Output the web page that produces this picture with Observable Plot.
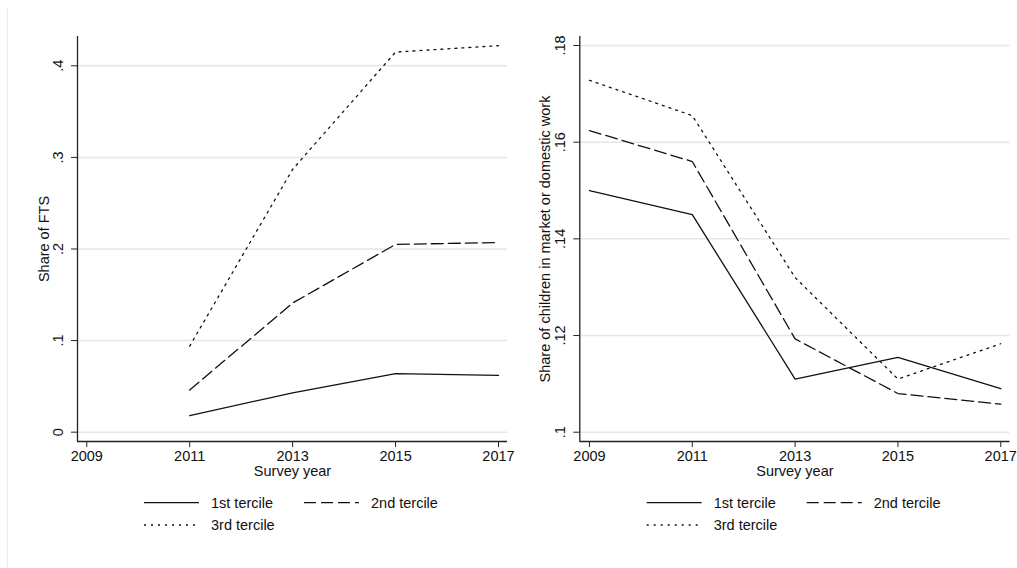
<!DOCTYPE html>
<html>
<head>
<meta charset="utf-8">
<script src="https://cdn.jsdelivr.net/npm/d3@7"></script>
<script src="https://cdn.jsdelivr.net/npm/@observablehq/plot@0.6"></script>
<style>
  html, body { margin: 0; padding: 0; background: #fff; }
  #chart { position: relative; width: 1017px; height: 568px; overflow: hidden; font-family: "Liberation Sans", Arial, sans-serif; }
  #chart > svg, #chart > div { position: absolute; top: 0; }
</style>
</head>
<body>
<div id="chart"></div>
<script>
// ---------- data ----------
const years = [2009, 2011, 2013, 2015, 2017];
const seriesNames = ["1st tercile", "2nd tercile", "3rd tercile"];

// Left panel: Share of FTS (no 2009 observation)
const fts1 = [null, 0.018, 0.043, 0.064, 0.062];
const fts2 = [null, 0.046, 0.141, 0.205, 0.207];
const fts3 = [null, 0.094, 0.287, 0.415, 0.422];

// Right panel: Share of children in market or domestic work
const work1 = [0.150, 0.145, 0.111, 0.1155, 0.109];
const work2 = [0.1624, 0.156, 0.1193, 0.108, 0.1058];
const work3 = [0.1728, 0.1655, 0.132, 0.111, 0.1183];

const yTicksLeft = [0, 0.1, 0.2, 0.3, 0.4];
const yTicksRight = [0.1, 0.12, 0.14, 0.16, 0.18];
const xTicks = [2009, 2011, 2013, 2015, 2017];

const xLabel = "Survey year";
const yLabelLeft = "Share of FTS";
const yLabelRight = "Share of children in market or domestic work";

// ---------- styles ----------
const dashes = [null, "12,5", "2,5"];
const lineColor = "#111";
const fmt = d => d === 0 ? "0" : String(+d.toFixed(4)).replace(/^0\./, ".");

function toRows(vals) {
  return years.map((y, i) => ({year: y, value: vals[i]}));
}

function panel({vals, yDomain, xDomain, yTicks, yLabel, width, marginLeft, marginRight, titleDx}) {
  const marks = [
    Plot.gridY(yTicks, {stroke: "#e6e6e6", strokeOpacity: 1, strokeWidth: 1.5}),
  ];
  vals.forEach((v, i) => {
    marks.push(Plot.line(toRows(v), {
      x: "year", y: "value",
      stroke: lineColor, strokeWidth: 1.3,
      strokeDasharray: dashes[i] || undefined
    }));
  });
  marks.push(
    Plot.ruleX([xDomain[0]], {stroke: "#222", strokeWidth: 1.3}),
    Plot.ruleY([yDomain[0]], {stroke: "#222", strokeWidth: 1.3}),
    Plot.axisX({ticks: xTicks, tickFormat: d => String(d), tickSize: 6, tickPadding: 3, label: null, stroke: "#222", fontSize: 14.5}),
    Plot.axisY({ticks: yTicks, tickFormat: fmt, tickRotate: -90, tickSize: 6, tickPadding: 9, label: null, stroke: "#222", fontSize: 14.5}),
    Plot.text([xLabel], {frameAnchor: "bottom", lineAnchor: "middle", textAnchor: "middle", dy: 30, text: d => d, fontSize: 14.5}),
    Plot.text([yLabel], {frameAnchor: "left", textAnchor: "middle", lineAnchor: "middle", rotate: -90, dx: titleDx, text: d => d, fontSize: 14.5})
  );
  return Plot.plot({
    width, height: 568,
    marginLeft, marginRight, marginTop: 36, marginBottom: 127,
    x: {domain: xDomain},
    y: {domain: yDomain},
    style: {fontFamily: "'Liberation Sans', Arial, sans-serif", fontSize: "14px", color: "#111", background: "transparent", overflow: "visible"},
    marks
  });
}

const chart = document.getElementById("chart");

const left = panel({
  vals: [fts1, fts2, fts3],
  yDomain: [-0.0102, 0.432], xDomain: [2008.82, 2017.175],
  yTicks: yTicksLeft, yLabel: yLabelLeft,
  width: 510, marginLeft: 77, marginRight: 3, titleDx: -33
});
left.style.left = "0px";
chart.appendChild(left);

const right = panel({
  vals: [work1, work2, work3],
  yDomain: [0.09808, 0.18186], xDomain: [2008.812, 2017.18],
  yTicks: yTicksRight, yLabel: yLabelRight,
  width: 507, marginLeft: 69.3, marginRight: 7.5, titleDx: -34
});
right.style.left = "510px";
chart.appendChild(right);

// ---------- legends + decoration overlay ----------
const svg = d3.create("svg")
  .attr("width", 1017).attr("height", 568)
  .style("position", "absolute").style("left", "0px").style("top", "0px")
  .style("font-family", "'Liberation Sans', Arial, sans-serif")
  .style("font-size", "14.5px");

svg.append("line").attr("x1", 7.5).attr("x2", 7.5).attr("y1", 8).attr("y2", 568)
  .attr("stroke", "#ececec").attr("stroke-width", 1.2);

function legend(x0) {
  const g = svg.append("g").attr("transform", `translate(${x0},0)`);
  const pos = [[0, 502.7], [160, 502.7], [0, 525]];
  seriesNames.forEach((name, i) => {
    const [dx, y] = pos[i];
    g.append("line").attr("x1", dx).attr("x2", dx + 55).attr("y1", y).attr("y2", y)
      .attr("stroke", lineColor).attr("stroke-width", 1.3)
      .attr("stroke-dasharray", dashes[i]);
    g.append("text").attr("x", dx + 67).attr("y", y).attr("dy", "0.35em")
      .attr("fill", "#111").text(name);
  });
}
legend(144);
legend(646.7);

chart.appendChild(svg.node());
</script>
</body>
</html>
